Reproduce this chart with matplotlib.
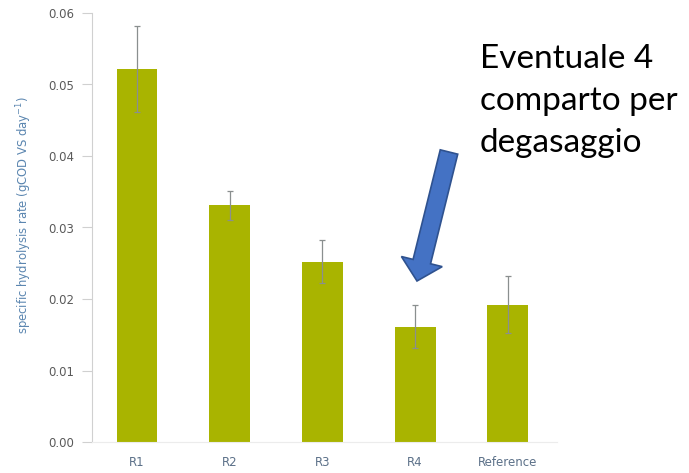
import matplotlib
matplotlib.use("Agg")
import matplotlib.pyplot as plt
from matplotlib.patches import FancyArrow

# Data.
categories = ["R1", "R2", "R3", "R4", "Reference"]
rates = [0.0522, 0.0331, 0.0252, 0.0161, 0.0192]
errors = [0.0060, 0.0020, 0.0030, 0.0030, 0.0040]
yticks = [0.00, 0.01, 0.02, 0.03, 0.04, 0.05, 0.06]

bar_color = "#a9b400"
axis_gray = "#d0d0d0"
label_blue = "#5b86b0"

fig = plt.figure(figsize=(6.89, 4.73), dpi=100)
fig.set_facecolor("white")
ax = fig.add_axes([92 / 689, 1 - 442 / 473, 465 / 689, 429 / 473])

x = range(len(categories))
ax.bar(x, rates, width=0.44, color=bar_color, zorder=2)
ax.errorbar(x, rates, yerr=errors, fmt="none", ecolor="#8a8f8f",
            elinewidth=0.9, capsize=2, capthick=0.9, zorder=3)

ax.set_xlim(-0.485, 4.53)
ax.set_ylim(0, 0.06)
ax.set_yticks(yticks)
ax.set_yticklabels([f"{v:.2f}" for v in yticks])
ax.set_xticks(list(x))
ax.set_xticklabels(categories)

for side in ["top", "right"]:
    ax.spines[side].set_visible(False)
ax.spines["left"].set_color(axis_gray)
ax.spines["bottom"].set_color("#ececec")
ax.spines["left"].set_linewidth(0.8)
ax.spines["bottom"].set_linewidth(0.8)

ax.tick_params(axis="y", length=7, color=axis_gray, labelsize=8.5,
               labelcolor="#5a5a5a", pad=6)
ax.tick_params(axis="x", length=0, labelsize=8.5, labelcolor="#5b7088", pad=10)

ax.set_ylabel("specific hydrolysis rate (gCOD VS day$^{-1}$)", fontsize=8.4,
              color=label_blue)
ax.yaxis.set_label_coords(-0.125, 0.53)

# Annotation text on the right.
fig.text(480 / 689, 1 - 44 / 473, "Eventuale 4\ncomparto per\ndegasaggio",
         fontsize=24, family="Lato", color="black", va="top", ha="left",
         linespacing=1.5)

# Blue block arrow pointing at R4, in figure pixel coordinates.
tail = (449, 152)
tip = (417, 281)
arrow = FancyArrow(tail[0], 473 - tail[1], tip[0] - tail[0], tail[1] - tip[1],
                   width=18, head_width=42, head_length=20,
                   length_includes_head=True, transform=None,
                   facecolor="#4472c4", edgecolor="#2f528f", linewidth=1.2,
                   zorder=5)
fig.patches.append(arrow)

fig.savefig("out.png", dpi=100)
